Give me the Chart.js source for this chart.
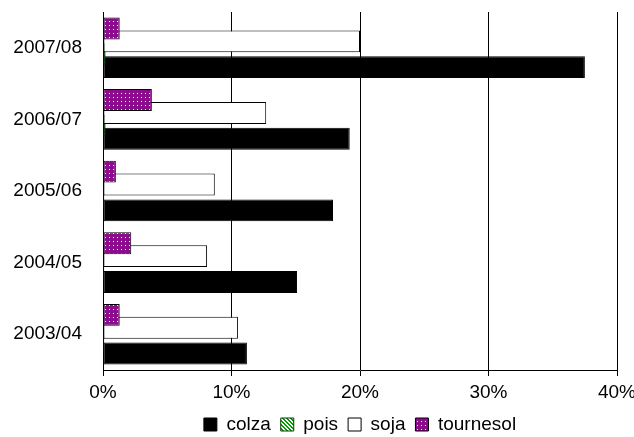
<!DOCTYPE html>
<html>
<head>
<meta charset="utf-8">
<script src="https://cdn.jsdelivr.net/npm/chart.js@4"></script>
<style>
  html, body { margin: 0; padding: 0; background: #fff; }
  #wrap { width: 634px; height: 437px; }
</style>
</head>
<body>
<div id="wrap"><canvas id="myChart"></canvas></div>
<script>
const campaigns = ['2003/04', '2004/05', '2005/06', '2006/07', '2007/08'];
const colza = [11.2, 15.1, 17.9, 19.2, 37.5];
const pois = [0.1, 0.1, 0.1, 0.2, 0.2];
const soja = [10.5, 8.1, 8.7, 12.7, 20.0];
const tournesol = [1.3, 2.2, 1.0, 3.8, 1.3];
const xTicks = [0, 10, 20, 30, 40];

const font = { family: '"Liberation Sans", Arial, sans-serif', size: 19 };

function dotPattern() {
  const c = document.createElement('canvas');
  c.width = 4;
  c.height = 4;
  const g = c.getContext('2d');
  g.fillStyle = '#8e0a8e';
  g.fillRect(0, 0, 4, 4);
  g.fillStyle = '#ffffff';
  g.fillRect(1, 1, 1, 1);
  return g.createPattern(c, 'repeat');
}

function stripePattern() {
  const c = document.createElement('canvas');
  c.width = 4;
  c.height = 4;
  const g = c.getContext('2d');
  g.fillStyle = '#ffffff';
  g.fillRect(0, 0, 4, 4);
  g.fillStyle = '#00a000';
  for (let i = 0; i < 4; i++) {
    g.fillRect(i, i, 1, 1);
    g.fillRect((i + 1) % 4, i, 1, 1);
  }
  return g.createPattern(c, 'repeat');
}

// legend is centred under the plot area, not under the whole canvas
const legendUnderPlot = {
  id: 'legendUnderPlot',
  afterLayout(chart) {
    const lg = chart.legend;
    if (!lg) return;
    lg.left = chart.chartArea.left;
    lg.right = chart.chartArea.right;
    lg.width = lg.right - lg.left;
  }
};

const ctx = document.getElementById('myChart').getContext('2d');

// excel draws the first category at the bottom and the first series lowest in each group,
// chart.js does the opposite, so both get flipped here
const series = [
  { label: 'colza', data: colza, bg: '#000000', border: '#000000' },
  { label: 'pois', data: pois, bg: stripePattern(), border: '#0a3a0a' },
  { label: 'soja', data: soja, bg: '#ffffff', border: '#000000' },
  { label: 'tournesol', data: tournesol, bg: dotPattern(), border: '#000000' }
];

const myChart = new Chart(ctx, {
  type: 'bar',
  data: {
    labels: [...campaigns].reverse(),
    datasets: [...series].reverse().map(s => ({
      label: s.label,
      data: [...s.data].reverse(),
      backgroundColor: s.bg,
      borderColor: s.border,
      borderWidth: 1,
      borderSkipped: false
    }))
  },
  plugins: [legendUnderPlot],
  options: {
    indexAxis: 'y',
    responsive: true,
    maintainAspectRatio: false,
    animation: false,
    layout: { padding: { top: 12, right: 17, left: 0, bottom: -7 } },
    datasets: {
      bar: { categoryPercentage: 0.72, barPercentage: 1.7 }
    },
    plugins: {
      tooltip: { enabled: false },
      legend: {
        position: 'bottom',
        reverse: true,
        labels: {
          color: '#000',
          font: font,
          boxWidth: 13,
          boxHeight: 13,
          padding: 10
        }
      }
    },
    scales: {
      x: {
        min: 0,
        max: 40,
        afterBuildTicks: scale => {
          scale.ticks = xTicks.map(v => ({ value: v }));
        },
        afterFit: scale => {
          scale.paddingLeft = 0;
          scale.paddingRight = 0;
          scale.height = 35;
        },
        ticks: {
          color: '#000',
          font: font,
          padding: 5,
          maxRotation: 0,
          callback: function(value) {
            return value + '%';
          }
        },
        grid: { color: '#000', lineWidth: 1, tickLength: 6 },
        border: { color: '#000' }
      },
      y: {
        afterFit: scale => {
          scale.width = 103;
          scale.paddingTop = 0;
          scale.paddingBottom = 0;
        },
        ticks: { color: '#000', font: font, padding: 13 },
        grid: { display: false },
        border: { color: '#000' }
      }
    }
  }
});
</script>
</body>
</html>
